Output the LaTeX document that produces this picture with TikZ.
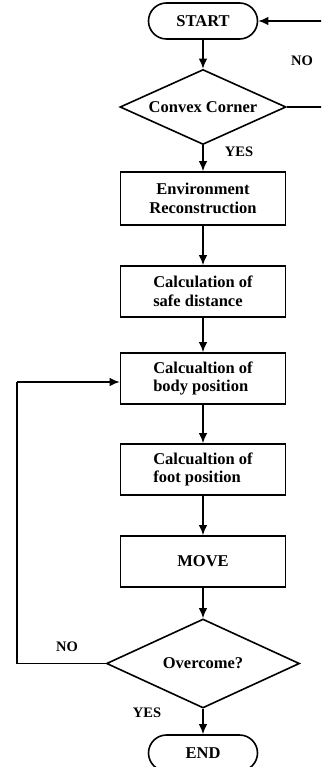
\documentclass[tikz,border=0pt]{standalone}
\usepackage{fontspec}
\setmainfont{Liberation Serif}
\usetikzlibrary{arrows.meta,shapes.geometric}
\tikzset{
    boxnode/.style={draw,line width=1.6pt,minimum width=165pt,minimum height=51pt,inner sep=0pt,
        font=\fontsize{16.5}{18.5}\selectfont\bfseries},
    termnode/.style={boxnode,rounded corners=18pt,minimum width=109pt,minimum height=36pt},
    decnode/.style={boxnode,diamond,aspect=2.2},
    flow/.style={line width=1.6pt,-{Latex[length=10pt,width=8.5pt]}},
    plain/.style={line width=1.6pt},
    lbl/.style={font=\fontsize{14.5}{16}\selectfont\bfseries}
}
\begin{document}
\begin{tikzpicture}[x=1pt,y=-1pt]
                \clip (0,0) rectangle (321,767);
                \node[termnode] (start) at (203,21) {START};
                \node[decnode,minimum width=166pt,minimum height=75pt] (convex) at (203,107) {Convex Corner};
                \node[boxnode,align=center,minimum height=53pt] (recon) at (203,198.5) {Environment\\Reconstruction};
                \node[boxnode,align=left] (safedist) at (203,291.5) {Calculation of\\safe distance};
                \node[boxnode,align=left] (bodypos) at (203,378.5) {Calcualtion of\\body position};
                \node[boxnode,align=left] (footpos) at (203,469.5) {Calcualtion of\\foot position};
                \node[boxnode] (move) at (203,561.5) {MOVE};
                \node[decnode,minimum width=193pt,minimum height=89pt,aspect=2.17] (overcome) at (203,663.5) {Overcome?};
                \node[termnode] (finish) at (203,753) {END};
                \coordinate (loopleft) at (17,382);
                % main flow
                \draw[flow] (start) -- (convex);
                \draw[flow] (convex) -- (recon);
                \draw[flow] (recon) -- (safedist);
                \draw[flow] (safedist) -- (bodypos);
                \draw[flow] (bodypos) -- (footpos);
                \draw[flow] (footpos) -- (move);
                \draw[flow] (move) -- (overcome);
                \draw[flow] (overcome) -- (finish);
                % back edges
                \draw[flow] (convex.east) -- ++(45,0) |- (start.east);
                \draw[plain] (overcome.west) -| (loopleft);
                \draw[flow] (loopleft) -- (loopleft -| bodypos.west);
                \node[lbl] (noone) at (302,61) {NO};
                \node[lbl] (yesone) at (239,152) {YES};
                \node[lbl] (notwo) at (67,647) {NO};
                \node[lbl] (yestwo) at (147,713) {YES};
            \end{tikzpicture}
\end{document}
